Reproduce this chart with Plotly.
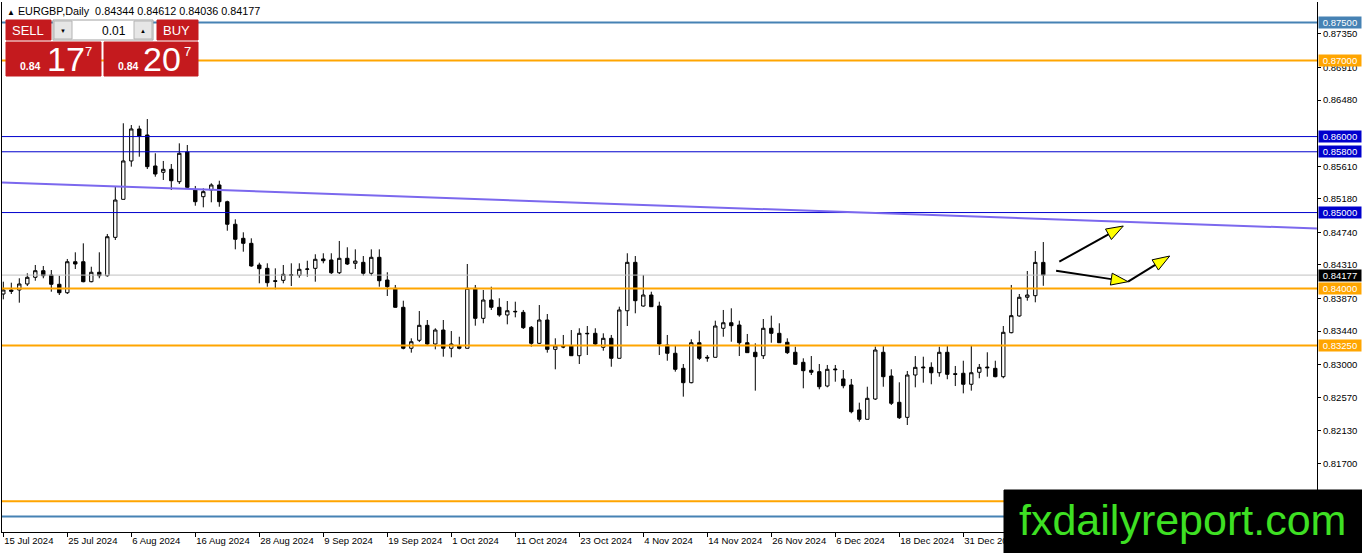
import math
import plotly.graph_objects as go

# ---------------- data ----------------
opens = [0.83928, 0.83981, 0.83981, 0.84060, 0.84148, 0.84235, 0.84178, 0.84056, 0.83945, 0.84353,
         0.84353, 0.84090, 0.84214, 0.84169, 0.84674, 0.85174, 0.85679, 0.86100, 0.86021, 0.85613,
         0.85530, 0.85569, 0.85406, 0.85797, 0.85297, 0.85209, 0.85297, 0.85363, 0.85143, 0.84846,
         0.84661, 0.84595, 0.84310, 0.84266, 0.84103, 0.84108, 0.84182, 0.84174, 0.84253, 0.84266,
         0.84389, 0.84376, 0.84208, 0.84398, 0.84332, 0.84345, 0.84201, 0.84411, 0.84112, 0.84003,
         0.83753, 0.83214, 0.83319, 0.83516, 0.83270, 0.83454, 0.83214, 0.83248, 0.83214, 0.84003,
         0.83608, 0.83849, 0.83753, 0.83652, 0.83700, 0.83687, 0.83490, 0.83279, 0.83586, 0.83200,
         0.83240, 0.83244, 0.83116, 0.83411, 0.83411, 0.83227, 0.83345, 0.83082, 0.83708, 0.84345,
         0.83770, 0.83915, 0.83770, 0.83257, 0.83148, 0.82950, 0.82761, 0.83287, 0.83095, 0.83095,
         0.83477, 0.83550, 0.83520, 0.83287, 0.83161, 0.83116, 0.83477, 0.83411, 0.83293, 0.83161,
         0.83029, 0.82924, 0.82906, 0.82717, 0.82941, 0.82810, 0.82731, 0.82402, 0.82279, 0.82546,
         0.83161, 0.82849, 0.82503, 0.82305, 0.82862, 0.82967, 0.82963, 0.82892, 0.83161, 0.82879,
         0.82885, 0.82740, 0.82898, 0.82967, 0.82950, 0.82840, 0.83419, 0.83639, 0.83885, 0.83906,
         0.84344]
highs = [0.84090, 0.84077, 0.84135, 0.84201, 0.84310, 0.84297, 0.84244, 0.84169, 0.84389, 0.84477,
         0.84595, 0.84287, 0.84477, 0.84718, 0.85340, 0.86175, 0.86152, 0.86143, 0.86231, 0.85780,
         0.85679, 0.85639, 0.85911, 0.85889, 0.85350, 0.85319, 0.85385, 0.85419, 0.85156, 0.84911,
         0.84740, 0.84661, 0.84340, 0.84332, 0.84266, 0.84310, 0.84332, 0.84332, 0.84366, 0.84451,
         0.84464, 0.84464, 0.84626, 0.84543, 0.84516, 0.84428, 0.84516, 0.84516, 0.84214, 0.84047,
         0.83840, 0.83345, 0.83704, 0.83586, 0.83477, 0.83586, 0.83441, 0.83366, 0.84323, 0.84047,
         0.83981, 0.84024, 0.83872, 0.83836, 0.83827, 0.83718, 0.83507, 0.83783, 0.83665, 0.83345,
         0.83389, 0.83454, 0.83477, 0.83507, 0.83477, 0.83411, 0.83389, 0.83761, 0.84464, 0.84428,
         0.84178, 0.83958, 0.83827, 0.83389, 0.83244, 0.83007, 0.83332, 0.83445, 0.83125, 0.83577,
         0.83718, 0.83740, 0.83577, 0.83402, 0.83279, 0.83599, 0.83643, 0.83543, 0.83345, 0.83235,
         0.83082, 0.83112, 0.83007, 0.82994, 0.82994, 0.82928, 0.82810, 0.82498, 0.82708, 0.83237,
         0.83244, 0.82937, 0.82766, 0.82915, 0.83112, 0.83103, 0.83029, 0.83235, 0.83244, 0.82981,
         0.83050, 0.83244, 0.83007, 0.83161, 0.83050, 0.83507, 0.84047, 0.83928, 0.84231, 0.84494,
         0.84612]
lows = [0.83858, 0.83928, 0.83814, 0.84033, 0.84103, 0.84135, 0.83958, 0.83915, 0.83928, 0.84257,
        0.84082, 0.84082, 0.84135, 0.84156, 0.84639, 0.85174, 0.85604, 0.85735, 0.85573, 0.85472,
        0.85429, 0.85297, 0.85376, 0.85317, 0.85090, 0.85069, 0.85135, 0.85077, 0.84761, 0.84516,
        0.84485, 0.84287, 0.84069, 0.84024, 0.83990, 0.84069, 0.84033, 0.84143, 0.84156, 0.84090,
        0.84332, 0.84191, 0.84191, 0.84310, 0.84257, 0.84169, 0.84169, 0.84024, 0.83902, 0.83748,
        0.83200, 0.83156, 0.83296, 0.83257, 0.83200, 0.83103, 0.83095, 0.83200, 0.83214, 0.83511,
        0.83543, 0.83718, 0.83629, 0.83529, 0.83621, 0.83468, 0.83235, 0.83270, 0.83156, 0.82937,
        0.83214, 0.83112, 0.83007, 0.83125, 0.83257, 0.83182, 0.82971, 0.83082, 0.83507, 0.83674,
        0.83761, 0.83761, 0.83125, 0.83050, 0.82906, 0.82577, 0.82753, 0.83060, 0.83037, 0.83095,
        0.83366, 0.83300, 0.83112, 0.83156, 0.82656, 0.83073, 0.83287, 0.83287, 0.83138, 0.82994,
        0.82687, 0.82862, 0.82674, 0.82700, 0.82774, 0.82687, 0.82358, 0.82248, 0.82279, 0.82533,
        0.82708, 0.82467, 0.82283, 0.82204, 0.82700, 0.82761, 0.82740, 0.82840, 0.82806, 0.82717,
        0.82621, 0.82656, 0.82819, 0.82840, 0.82832, 0.82819, 0.83411, 0.83629, 0.83840, 0.83819,
        0.84036]
closes = [0.83981, 0.83964, 0.84060, 0.84148, 0.84235, 0.84169, 0.84056, 0.83945, 0.84353, 0.84323,
          0.84090, 0.84214, 0.84169, 0.84682, 0.85165, 0.85679, 0.86100, 0.86008, 0.85604, 0.85507,
          0.85569, 0.85419, 0.85780, 0.85332, 0.85143, 0.85275, 0.85363, 0.85143, 0.84846, 0.84648,
          0.84595, 0.84297, 0.84261, 0.84077, 0.84095, 0.84187, 0.84174, 0.84253, 0.84257, 0.84385,
          0.84366, 0.84208, 0.84398, 0.84323, 0.84362, 0.84201, 0.84411, 0.84103, 0.84024, 0.83753,
          0.83214, 0.83300, 0.83516, 0.83270, 0.83454, 0.83214, 0.83270, 0.83214, 0.84003, 0.83608,
          0.83849, 0.83753, 0.83652, 0.83708, 0.83695, 0.83485, 0.83279, 0.83586, 0.83200, 0.83244,
          0.83231, 0.83116, 0.83411, 0.83406, 0.83270, 0.83345, 0.83082, 0.83718, 0.84345, 0.83840,
          0.83915, 0.83761, 0.83270, 0.83148, 0.82937, 0.82761, 0.83287, 0.83082, 0.83086, 0.83507,
          0.83550, 0.83511, 0.83287, 0.83156, 0.83103, 0.83477, 0.83411, 0.83287, 0.83156, 0.83003,
          0.82919, 0.82898, 0.82708, 0.82937, 0.82932, 0.82721, 0.82379, 0.82279, 0.82555, 0.83191,
          0.82840, 0.82490, 0.82300, 0.82862, 0.82963, 0.82958, 0.82892, 0.83161, 0.82871, 0.82871,
          0.82740, 0.82892, 0.82963, 0.82958, 0.82840, 0.83424, 0.83643, 0.83885, 0.83915, 0.84344,
          0.84177]

date_labels = ["15 Jul 2024", "25 Jul 2024", "6 Aug 2024", "16 Aug 2024", "28 Aug 2024",
               "9 Sep 2024", "19 Sep 2024", "1 Oct 2024", "11 Oct 2024", "23 Oct 2024",
               "4 Nov 2024", "14 Nov 2024", "26 Nov 2024", "6 Dec 2024", "18 Dec 2024",
               "31 Dec 2024"]
bars_per_label = 8

price_ticks = [0.87350, 0.86910, 0.86480, 0.85610, 0.85180, 0.84740, 0.84310,
               0.83870, 0.83440, 0.83000, 0.82570, 0.82130, 0.81700]

level_prices = [0.87500, 0.87000, 0.86000, 0.85800, 0.85000, 0.84000, 0.83250, 0.81200, 0.81000]
level_colors = ["#4682B4", "#FFA500", "#0000CD", "#0000CD", "#0000CD", "#FFA500", "#FFA500", "#FFA500", "#4682B4"]
level_widths = [2, 2, 1, 1, 1, 2, 2, 2, 2]

trend_x = [-0.16, 164.2]
trend_y = [0.85396, 0.84790]

arrow_starts = [(132.0, 0.84353), (131.6, 0.84235), (140.6, 0.84090)]
arrow_ends = [(140.0, 0.84823), (140.6, 0.84090), (145.8, 0.84428)]

symbol = "EURGBP,Daily"
lot = "0.01"
sell_big, sell_pip = "17", "7"
buy_big, buy_pip = "20", "7"
price_prefix = "0.84"

# ---------------- layout geometry ----------------
W, H = 1362, 553
ML, MR, MT, MB = 2, 45, 2, 21
PW, PH = W - ML - MR, H - MT - MB
x_range = [-0.1625, -0.1625 + PW / 8.0]
y_range = [0.80796, 0.87771]
sx = PW / (x_range[1] - x_range[0])
sy = PH / (y_range[1] - y_range[0])


def px(xp):
    return (xp - ML) / PW


def py(yp):
    return 1 - (yp - MT) / PH


RED = "#C41A1E"
SANS = "Liberation Sans, Arial, sans-serif"

idx = list(range(len(opens)))

fig = go.Figure()
fig.add_trace(go.Candlestick(
    x=idx, open=opens, high=highs, low=lows, close=closes,
    increasing=dict(fillcolor="#FFFFFF", line=dict(color="#000000", width=1)),
    decreasing=dict(fillcolor="#000000", line=dict(color="#000000", width=1)),
    whiskerwidth=0, hoverinfo="skip", showlegend=False,
))

shapes = []
annotations = []

# current price line
last_close = closes[-1]
shapes.append(dict(type="line", xref="paper", yref="y", x0=0, x1=1, y0=last_close, y1=last_close,
                   line=dict(color="#C0C0C0", width=1), layer="above"))

# horizontal levels
for p, c, w in zip(level_prices, level_colors, level_widths):
    shapes.append(dict(type="line", xref="paper", yref="y", x0=0, x1=1, y0=p, y1=p,
                       line=dict(color=c, width=w), layer="above"))

# trend line
shapes.append(dict(type="line", xref="x", yref="y", x0=trend_x[0], x1=trend_x[1],
                   y0=trend_y[0], y1=trend_y[1], line=dict(color="#7B68EE", width=2), layer="above"))

# arrows with yellow heads
HEAD_L, HEAD_W = 17.0, 6.0
for (x0, y0), (x1, y1) in zip(arrow_starts, arrow_ends):
    X0, Y0, X1, Y1 = x0 * sx, y0 * sy, x1 * sx, y1 * sy
    d = math.hypot(X1 - X0, Y1 - Y0)
    ux, uy = (X1 - X0) / d, (Y1 - Y0) / d
    nx, ny = -uy, ux
    BX, BY = X1 - HEAD_L * ux, Y1 - HEAD_L * uy
    shapes.append(dict(type="line", xref="x", yref="y", x0=x0, y0=y0, x1=BX / sx, y1=BY / sy,
                       line=dict(color="#000000", width=2), layer="above"))
    pts = [(X1, Y1), (BX + HEAD_W * nx, BY + HEAD_W * ny), (BX - HEAD_W * nx, BY - HEAD_W * ny)]
    path = "M " + " L ".join(f"{a / sx:.5f},{b / sy:.6f}" for a, b in pts) + " Z"
    shapes.append(dict(type="path", xref="x", yref="y", path=path, fillcolor="#FFFF00",
                       line=dict(color="#000000", width=1), layer="above"))

# right-hand price labels for levels
label_levels = [(0.87500, "#4682B4"), (0.87000, "#FFA500"), (0.86000, "#0000CD"),
                (0.85800, "#0000CD"), (0.85000, "#0000CD"), (0.84000, "#FFA500"), (0.83250, "#FFA500")]
for p, c in label_levels:
    annotations.append(dict(xref="paper", yref="y", x=1, y=p, xanchor="left", yanchor="middle",
                            xshift=1, text=f"{p:.5f}", showarrow=False, bgcolor=c, width=42, height=11,
                            borderpad=0, font=dict(family=SANS, size=9.5, color="#FFFFFF")))
annotations.append(dict(xref="paper", yref="y", x=1, y=last_close, xanchor="left", yanchor="middle",
                        xshift=1, text=f"{last_close:.5f}", showarrow=False, bgcolor="#000000",
                        width=42, height=11, borderpad=0, font=dict(family=SANS, size=9.5, color="#FFFFFF")))

# header
annotations.append(dict(xref="paper", yref="paper", x=px(5), y=py(10.5), xanchor="left", yanchor="middle",
                        showarrow=False, font=dict(family=SANS, size=10.8, color="#000000"),
                        text=f"<span style='font-size:8px'>▲</span> {symbol}  "
                             f"{opens[-1]:.5f} {highs[-1]:.5f} {lows[-1]:.5f} {closes[-1]:.5f}"))

# trade panel
def rect(x0, y0, x1, y1, fill, line=None):
    shapes.append(dict(type="rect", xref="paper", yref="paper", x0=px(x0), x1=px(x1), y0=py(y1), y1=py(y0),
                       fillcolor=fill, line=dict(color=line or fill, width=1), layer="above"))


def text(xp, yp, s, size, color, family=SANS, anchor="center"):
    annotations.append(dict(xref="paper", yref="paper", x=px(xp), y=py(yp), xanchor=anchor, yanchor="middle",
                            text=s, showarrow=False, font=dict(family=family, size=size, color=color)))


rect(6, 20, 51, 40, RED)
rect(53, 20, 153, 40, "#FFFFFF", "#A0A0A0")
rect(54, 21, 72, 39, "#E6E6E6", "#B4B4B4")
rect(134, 21, 152, 39, "#E6E6E6", "#B4B4B4")
rect(157, 20, 198, 40, RED)
rect(6, 42, 101, 76, RED)
rect(104, 42, 198, 76, RED)

text(28, 30.5, "SELL", 13, "#FFFFFF")
text(176, 30.5, "BUY", 13, "#FFFFFF")
text(63, 30.5, "▼", 6, "#000000")
text(143, 30.5, "▲", 6, "#000000")
text(128, 30.5, lot, 12, "#000000", SANS, "right")
text(30, 65.5, f"<b>{price_prefix}</b>", 10.5, "#FFFFFF")
text(66, 58.5, sell_big, 34, "#FFFFFF")
text(88, 51.5, sell_pip, 13, "#FFFFFF")
text(128, 65.5, f"<b>{price_prefix}</b>", 10.5, "#FFFFFF")
text(162, 58.5, buy_big, 34, "#FFFFFF")
text(187, 51.5, buy_pip, 13, "#FFFFFF")

# watermark
rect(1004, 490, 1362, 553, "#000000")
text(1182, 520, "fxdailyreport.com", 43, "#3EE023")

tick_pos = [i * bars_per_label for i in range(len(date_labels))]

fig.update_layout(
    width=W, height=H,
    margin=dict(l=ML, r=MR, t=MT, b=MB, pad=0),
    paper_bgcolor="#FFFFFF", plot_bgcolor="#FFFFFF",
    showlegend=False, boxgap=0.4,
    shapes=shapes, annotations=annotations,
    xaxis=dict(range=x_range, rangeslider=dict(visible=False), showgrid=False, zeroline=False,
               showline=True, linecolor="#000000", linewidth=1,
               tickmode="array", tickvals=tick_pos, ticktext=date_labels,
               ticks="outside", ticklen=4, tickcolor="#000000", ticklabelposition="outside right",
               tickfont=dict(family=SANS, size=9.5, color="#000000")),
    yaxis=dict(range=y_range, side="right", showgrid=False, zeroline=False,
               showline=True, mirror=True, linecolor="#000000", linewidth=1,
               tickmode="array", tickvals=price_ticks, ticktext=[f"{v:.5f}" for v in price_ticks],
               ticks="outside", ticklen=3, tickcolor="#000000",
               tickfont=dict(family=SANS, size=9.5, color="#000000")),
)

fig.write_html(
    "out.html",
    config={"displayModeBar": False, "responsive": False},
    post_script="document.body.style.margin='0';document.body.style.padding='0';"
                "document.body.style.overflow='hidden';",
)
